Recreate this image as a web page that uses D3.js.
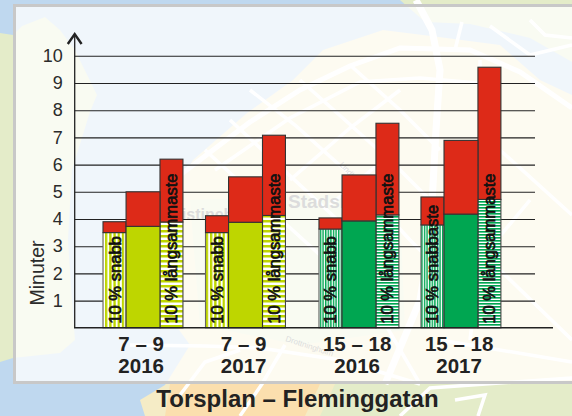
<!DOCTYPE html>
<html><head><meta charset="utf-8">
<script src="https://cdn.jsdelivr.net/npm/d3@7"></script>
<style>html,body{margin:0;padding:0;background:#fff}svg{display:block}text{font-family:"Liberation Sans",Arial,sans-serif}</style>
</head><body><svg id="c" width="572" height="416"></svg>
<script>
// ---------- chart data ----------
const periods = ["7 – 9","7 – 9","15 – 18","15 – 18"];
const years = ["2016","2017","2016","2017"];
const groupSlots = [0,1,2.107,3.102];
const fastBase = [3.5,3.5,3.63,3.78];
const fastTotal = [3.9,4.12,4.04,4.81];
const midBase = [3.73,3.88,3.93,4.18];
const midTotal = [5.0,5.55,5.62,6.89];
const slowBase = [3.89,4.13,4.15,4.72];
const slowTotal = [6.2,7.08,7.52,9.58];
const fastLabels = ["10 % snabb","10 % snabb","10 % snabb","10 % snabbaste"];
const slowLabel = "10 % långsammaste";
const yTicks = [1,2,3,4,5,6,7,8,9,10];
const title = "Torsplan – Fleminggatan";
const yTitle = "Minuter";
const groupColors = ["#bed600","#bed600","#00a651","#00a651"];
const red = "#dd2a18";
const ink = "#222";

// ---------- background map (decorative, hand-traced) ----------
const mapLand = "M0,33 L13,35 L22,26 L45,17 L60,30 L75,50 L97,95 L90,112 L72,170 L68,240 L72,300 L75,340 L60,353 L13,358 L0,362 Z";
const mapUrban = "M145,416 L140,400 L165,385 L190,345 L150,290 L150,230 L193,160 L247,113 L293,80 L323,50 L383,30 L439,37 L500,45 L540,80 L572,95 L572,416 Z";
const mapNorth = "M400,0 L572,0 L572,62 L530,38 L470,24 L425,22 Z";
const mapParkA = "M190,200 L330,195 L400,210 L405,330 L300,345 L200,325 Z";
const mapParkB = "M320,416 L335,384 L572,384 L572,416 Z";
const mapOuterOrange = "M165,416 L170,384 L320,384 L305,416 Z";
const mapRoads = [
 [[416,0],[432,30],[440,70],[436,130],[430,240],[420,300],[385,384]],
 [[180,175],[250,122],[300,90],[350,66],[400,48],[470,50],[520,72],[572,108]],
 [[215,170],[290,118],[360,82],[420,78],[500,85]],
 [[250,90],[295,125],[345,170],[410,240],[440,270]],
 [[300,80],[345,120],[395,165],[445,215]],
 [[350,65],[400,110],[440,150]],
 [[205,150],[265,205],[320,255],[380,315],[420,384]],
 [[230,120],[300,185],[370,250]],
 [[290,180],[350,128],[400,90]],
 [[330,205],[395,150]],
 [[480,60],[480,130],[500,150],[572,215]],
 [[455,50],[462,22]],
 [[490,26],[530,55],[572,45]],
 [[530,20],[545,35],[572,38]],
 [[500,140],[450,210],[440,290]],
 [[440,200],[500,270],[572,340]],
 [[530,200],[480,260],[470,340]],
 [[130,345],[205,346],[260,348],[340,360],[420,384]],
 [[180,395],[205,362],[240,350]],
 [[240,416],[262,384],[285,345]],
 [[400,416],[430,388],[572,378]],
 [[440,340],[572,362]],
 [[455,400],[485,395],[478,416]]
];

// ---------- scaffolding ----------
const svg = d3.select("#c");
const defs = svg.append("defs");
const line = d3.line().curve(d3.curveLinear);

const map = svg.append("g");
map.append("rect").attr("width",572).attr("height",416).attr("fill","#bfd8ef");
map.append("path").attr("d",mapLand).attr("fill","#e4ecc9");
map.append("path").attr("d",mapUrban).attr("fill","#f5ecc6");
map.append("path").attr("d",mapParkA).attr("fill","#e4ecc9");
map.append("path").attr("d",mapParkB).attr("fill","#e4ecc9");
map.append("path").attr("d",mapNorth).attr("fill","#e4ecc9");
map.append("path").attr("d",mapOuterOrange).attr("fill","#fbdfae");
map.selectAll("path.road").data(mapRoads).join("path").attr("class","road")
  .attr("d",line).attr("fill","none").attr("stroke","#fff").attr("stroke-width",(d,i)=>i===0?7:(i<2?5:3.5));

// panel
svg.append("rect").attr("x",14.5).attr("y",5.5).attr("width",570).attr("height",377)
  .attr("fill","#fff").attr("fill-opacity",0.76).attr("stroke","#c8c8c8").attr("stroke-width",3);
const wm = svg.append("g").attr("font-weight","bold").attr("fill","#dcdcdc");
wm.append("text").attr("x",288).attr("y",208).attr("font-size",19).text("Stadshagen");
wm.append("text").attr("x",164).attr("y",220).attr("font-size",16).text("Kristineberg");
svg.append("text").attr("transform","translate(339,165) rotate(47)").attr("font-size",8).attr("fill","#ddd").text("Lindhagensg");
svg.append("text").attr("transform","translate(285,341) rotate(18)").attr("font-size",8).attr("fill","#ddd").text("Drottningholm");

// scales
const y = d3.scaleLinear().domain([0,10]).range([327.8,55.8]);
const x = d3.scaleLinear().domain([0,1]).range([103,205.5]);
const slotFast = 0, slotMid = 0.225, slotSlow = 0.556, slotEnd = 0.78;

// patterns
function stripes(id,color,period,vertical,ratio){
  const p = defs.append("pattern").attr("id",id).attr("patternUnits","userSpaceOnUse")
    .attr("width",vertical?period:10).attr("height",vertical?10:period);
  p.append("rect").attr("width",10).attr("height",10).attr("fill","#fff");
  p.append("rect").attr("width",vertical?period*ratio:10).attr("height",vertical?10:period*ratio).attr("fill",color);
}
stripes("v0","#bed600",4.2,true,0.55);
stripes("h0","#bed600",5,false,0.5);
stripes("v1","#00a651",2.6,true,0.55);
stripes("h1","#00a651",3,false,0.55);

// y axis with grid
const axis = d3.axisLeft(y).tickValues(yTicks).tickSize(-460.3).tickPadding(12).tickFormat(d3.format("d"));
const ag = svg.append("g").attr("transform","translate(74.7,0)").call(axis);
ag.select(".domain").remove();
ag.selectAll(".tick line").attr("stroke","#222").attr("stroke-width",1.1);
ag.selectAll(".tick text").attr("font-size",18).attr("fill","#2b2b2b").attr("font-family","'Liberation Sans',Arial,sans-serif");

// axis lines
svg.append("line").attr("x1",74.7).attr("x2",74.7).attr("y1",y(0)).attr("y2",34).attr("stroke",ink).attr("stroke-width",1.3);
svg.append("path").attr("d",line([[67.8,44],[74.7,34],[81.6,44]])).attr("fill","none").attr("stroke",ink).attr("stroke-width",2.4);

// bars
const chart = svg.append("g");
function bar(g,x0,x1,v0,v1,fill,stroke){
  g.append("rect").attr("x",x(x0)).attr("width",x(x1)-x(x0)).attr("y",y(v1)).attr("height",y(v0)-y(v1))
   .attr("fill",fill).attr("stroke",stroke).attr("stroke-width",1.1);
}
periods.forEach((_,i)=>{
  const g = chart.append("g"), s = groupSlots[i], k = i<2?0:1;
  bar(g,s+slotFast,s+slotMid,0,fastBase[i],`url(#v${k})`,"#666");
  bar(g,s+slotFast,s+slotMid,fastBase[i],fastTotal[i],red,"#333");
  bar(g,s+slotSlow,s+slotEnd,0,slowBase[i],`url(#h${k})`,"#444");
  bar(g,s+slotSlow,s+slotEnd,slowBase[i],slowTotal[i],red,"#333");
  bar(g,s+slotMid,s+slotSlow,0,midBase[i],groupColors[i],"#333");
  bar(g,s+slotMid,s+slotSlow,midBase[i],midTotal[i],red,"#333");
  const lab = (t,cx)=>g.append("text").attr("transform",`translate(${cx},${y(0)-4}) rotate(-90)`)
    .attr("font-size",16.6).attr("fill","#111").attr("stroke","#111").attr("stroke-width",0.7).text(t);
  lab(fastLabels[i],x(s+(slotFast+slotMid)/2)+6);
  lab(slowLabel,x(s+(slotSlow+slotEnd)/2)+6);
  const cx = x(s+slotEnd/2)-1.8;
  const t = svg.append("g").attr("text-anchor","middle").attr("font-weight","bold").attr("font-size",20.5).attr("fill",ink);
  t.append("text").attr("x",cx).attr("y",351).text(periods[i]);
  t.append("text").attr("x",cx).attr("y",373).text(years[i]);
});
// baseline
svg.append("line").attr("x1",74).attr("x2",553).attr("y1",y(0)).attr("y2",y(0)).attr("stroke",ink).attr("stroke-width",1.5);

// titles
svg.append("text").attr("transform","translate(44,273) rotate(-90)").attr("text-anchor","middle")
  .attr("font-size",19.5).attr("fill","#2b2b2b").text(yTitle);
svg.append("text").attr("x",297.5).attr("y",407).attr("text-anchor","middle").attr("font-weight","bold")
  .attr("font-size",24).attr("fill",ink).text(title);
</script></body></html>
